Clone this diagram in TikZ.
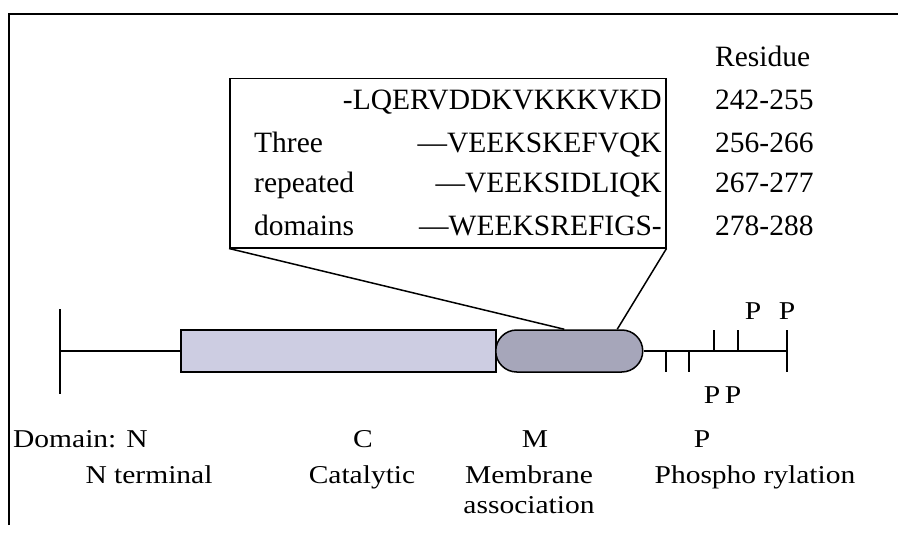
\documentclass[tikz,border=0pt]{standalone}
\usepackage{fontspec}
\setmainfont{Liberation Serif}
\usepackage{graphicx}
\usetikzlibrary{shapes.misc}
\definecolor{catfill}{RGB}{205,205,226}
\definecolor{memfill}{RGB}{166,166,186}
\newcommand{\squash}[1]{\scalebox{1}[0.87]{#1}}
\begin{document}
\begin{tikzpicture}[x=1pt,y=-1pt,
  txt/.style={inner sep=0pt,font=\fontsize{29.5}{35}\selectfont},
  lbl/.style={inner sep=0pt,font=\fontsize{29.5}{35}\selectfont},
  ln/.style={line width=1.5pt},
  frame/.style={line width=2pt}]
\useasboundingbox (0,0) rectangle (898,535);
% frame
\draw[frame] (9,525) -- (9,14) -- (898,14);
% inset box
\node (inset) [draw, ln, minimum width=436, minimum height=169, anchor=north west, inner sep=0pt] at (229,78) {};
% residue column
\node (res) [txt, anchor=base west] at (715,67) {Residue};
\node (s1) [txt, anchor=base east] at (662,110) {-LQERVDDKVKKKVKD};
\node (s2) [txt, anchor=base east] at (662,152) {—VEEKSKEFVQK};
\node (s3) [txt, anchor=base east] at (662,193) {—VEEKSIDLIQK};
\node (s4) [txt, anchor=base east] at (662,235) {—WEEKSREFIGS-};
\node (w1) [txt, anchor=base west] at (254,152) {Three};
\node (w2) [txt, anchor=base west] at (254,193) {repeated};
\node (w3) [txt, anchor=base west] at (254,235) {domains};
\node (r1) [txt, anchor=base west] at (715,110) {242-255};
\node (r2) [txt, anchor=base west] at (715,152) {256-266};
\node (r3) [txt, anchor=base west] at (715,193) {267-277};
\node (r4) [txt, anchor=base west] at (715,235) {278-288};
% protein
\coordinate (nterm) at (60,351);
\draw[ln] (60,309) -- (60,394);
\node (cat) [draw, ln, fill=catfill, minimum width=315, minimum height=42, anchor=west, inner sep=0pt] at (180,351) {};
\draw[ln] (nterm) -- (cat.west);
\node (mem) [rounded rectangle, draw, ln, fill=memfill, minimum width=147, minimum height=42, anchor=west, inner sep=0pt] at (495,351) {};
\coordinate (cend) at (787,351);
\draw[ln] (mem.east) -- (cend);
\draw[ln] (666,351) -- (666,372);
\draw[ln] (689,351) -- (689,372);
\draw[ln] (714,351) -- (714,330);
\draw[ln] (738,351) -- (738,330);
\draw[ln] (787,330) -- (787,372);
% zoom lines
\draw[ln] (inset.south west) -- ([xshift=-5pt]mem.north);
\draw[ln] (inset.south east) -- ([xshift=48pt]mem.north);
% P labels
\node (pt1) [lbl, anchor=base] at (753,319) {\squash{P}};
\node (pt2) [lbl, anchor=base] at (787,319) {\squash{P}};
\node (pb1) [lbl, anchor=base] at (712,403) {\squash{P}};
\node (pb2) [lbl, anchor=base] at (733,403) {\squash{P}};
% domain labels
\node (dn) [lbl, anchor=base west] at (13,447) {\squash{Domain: N}};
\node (dc) [lbl, anchor=base] at (363,447) {\squash{C}};
\node (dm) [lbl, anchor=base] at (535,447) {\squash{M}};
\node (dp) [lbl, anchor=base] at (702,447) {\squash{P}};
\node (ln1) [lbl, anchor=base] at (149,483) {\squash{N terminal}};
\node (ln2) [lbl, anchor=base] at (362,483) {\squash{Catalytic}};
\node (ln3) [lbl, anchor=base] at (529,483) {\squash{Membrane}};
\node (ln3b) [lbl, anchor=base] at (529,513) {\squash{association}};
\node (ln4) [lbl, anchor=base] at (755,483) {\squash{Phospho rylation}};
\end{tikzpicture}
\end{document}
